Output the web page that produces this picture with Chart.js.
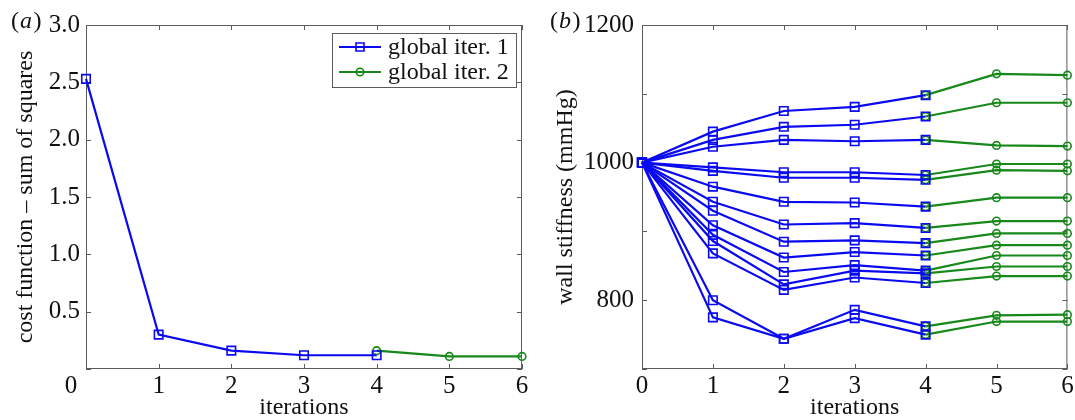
<!DOCTYPE html>
<html>
<head>
<meta charset="utf-8">
<script src="https://cdn.jsdelivr.net/npm/chart.js@4.4.1/dist/chart.umd.min.js"></script>
<style>
  body { margin: 0; background: #fff; }
  #wrap { position: relative; width: 1075px; height: 420px; overflow: hidden; }
  canvas { position: absolute; top: 0; }
  #costChart { left: 0; }
  #stiffChart { left: 540px; }
</style>
</head>
<body>
<div id="wrap">
  <canvas id="costChart" width="540" height="420"></canvas>
  <canvas id="stiffChart" width="535" height="420"></canvas>
</div>
<script>
// iterations on the x axis
const iterTicks = [0, 1, 2, 3, 4, 5, 6];
const stage1Iters = [0, 1, 2, 3, 4];
const stage2Iters = [4, 5, 6];
const seriesNames = ["global iter. 1", "global iter. 2"];

// (a) cost function
const costTickLabels = [0.5, 1.0, 1.5, 2.0, 2.5, 3.0];
const costStage1 = [2.53, 0.30, 0.16, 0.12, 0.12];
const costStage2 = [0.16, 0.11, 0.11];

// (b) wall stiffness, one row per vessel segment
const stiffTickLabels = [800, 1000, 1200];
const stiffStage1 = [
  [1000, 1045, 1075, 1081, 1098],
  [1000, 1033, 1052, 1055, 1067],
  [1000, 1023, 1033, 1031, 1033],
  [1000, 993, 986, 986, 982],
  [1000, 988, 978, 978, 975],
  [1000, 965, 943, 942, 936],
  [1000, 943, 910, 912, 905],
  [1000, 930, 885, 887, 883],
  [1000, 909, 862, 870, 865],
  [1000, 895, 841, 851, 843],
  [1000, 886, 823, 843, 839],
  [1000, 868, 815, 833, 825],
  [1000, 800, 744, 786, 762],
  [1000, 775, 744, 774, 750]
];
const stiffStage2 = [
  [1098, 1129, 1127],
  [1067, 1087, 1087],
  [1033, 1025, 1024],
  [982, 998, 998],
  [975, 989, 988],
  [936, 949, 949],
  [905, 915, 915],
  [883, 897, 897],
  [865, 880, 880],
  [843, 865, 865],
  [839, 849, 849],
  [825, 835, 835],
  [762, 778, 779],
  [750, 769, 769]
];

const BLUE = "#0a0af0";
const GREEN = "#17881a";
const SERIF = "'Liberation Serif', 'DejaVu Serif', serif";

const toPoints = (xs, ys) => ys.map((y, i) => ({ x: xs[i], y: y }));

const blueSet = (label, xs, ys) => ({
  label: label,
  data: toPoints(xs, ys),
  borderColor: BLUE,
  borderWidth: 2.2,
  pointStyle: "rect",
  pointRadius: 6,
  pointBorderWidth: 1.6,
  pointBackgroundColor: "rgba(0,0,0,0)",
  pointBorderColor: BLUE,
  clip: false
});

const greenSet = (label, xs, ys) => ({
  label: label,
  data: toPoints(xs, ys),
  borderColor: GREEN,
  borderWidth: 2.2,
  pointStyle: "circle",
  pointRadius: 3.8,
  pointBorderWidth: 1.6,
  pointBackgroundColor: "rgba(0,0,0,0)",
  pointBorderColor: GREEN,
  clip: false
});

// box around the plot + inward tick marks (matlab look)
const frameTicks = {
  id: "frameTicks",
  beforeDatasetsDraw(chart) {
    const { ctx, chartArea: a, scales } = chart;
    const len = 5;
    ctx.save();
    ctx.strokeStyle = "#5c5c5c";
    ctx.lineWidth = 1;
    ctx.strokeRect(a.left + 0.5, a.top + 0.5, a.right - a.left - 1, a.bottom - a.top - 1);
    ctx.beginPath();
    scales.x.ticks.forEach((t) => {
      const px = Math.round(scales.x.getPixelForValue(t.value)) + 0.5;
      ctx.moveTo(px, a.bottom);
      ctx.lineTo(px, a.bottom - len);
      ctx.moveTo(px, a.top);
      ctx.lineTo(px, a.top + len);
    });
    scales.y.ticks.forEach((t) => {
      const py = Math.round(scales.y.getPixelForValue(t.value)) + 0.5;
      ctx.moveTo(a.left, py);
      ctx.lineTo(a.left + len, py);
      ctx.moveTo(a.right, py);
      ctx.lineTo(a.right - len, py);
    });
    ctx.stroke();
    ctx.restore();
  },
  afterDraw(chart, args, opts) {
    if (!opts.letter) return;
    const ctx = chart.ctx;
    ctx.save();
    ctx.fillStyle = "#111";
    ctx.textBaseline = "middle";
    let x = opts.x;
    const y = 22;
    ctx.font = "24px " + SERIF;
    ctx.fillText("(", x, y);
    x += ctx.measureText("(").width + 1;
    ctx.font = "italic 24px " + SERIF;
    ctx.fillText(opts.letter, x, y);
    x += ctx.measureText(opts.letter).width + 1.5;
    ctx.font = "24px " + SERIF;
    ctx.fillText(")", x, y);
    ctx.restore();
  }
};

// legend box inside panel (a)
const boxLegend = {
  id: "boxLegend",
  afterDraw(chart, args, opts) {
    if (!opts.show) return;
    const { ctx, chartArea: a } = chart;
    const w = 184, h = 54;
    const left = a.right - 6 - w, top = a.top + 8;
    ctx.save();
    ctx.fillStyle = "#fff";
    ctx.fillRect(left, top, w, h);
    ctx.strokeStyle = "#5c5c5c";
    ctx.lineWidth = 1;
    ctx.strokeRect(left + 0.5, top + 0.5, w, h);
    chart.data.datasets.forEach((ds, i) => {
      const y = top + 14 + i * 25;
      ctx.strokeStyle = ds.borderColor;
      ctx.lineWidth = 2.2;
      ctx.beginPath();
      ctx.moveTo(left + 7, y);
      ctx.lineTo(left + 49, y);
      ctx.stroke();
      ctx.lineWidth = 1.6;
      ctx.beginPath();
      if (ds.pointStyle === "rect") {
        ctx.rect(left + 24, y - 4, 8, 8);
      } else {
        ctx.arc(left + 28, y, 3.8, 0, Math.PI * 2);
      }
      ctx.stroke();
      ctx.fillStyle = "#111";
      ctx.font = "24px " + SERIF;
      ctx.textBaseline = "middle";
      ctx.fillText(ds.label, left + 56, y + 1);
    });
    ctx.restore();
  }
};

const xScale = (zeroLabel) => ({
  type: "linear",
  min: 0,
  max: 6,
  afterBuildTicks: (scale) => {
    scale.ticks = iterTicks.map((v) => ({ value: v }));
  },
  afterFit: (scale) => {
    scale.height = 51;
    scale.paddingLeft = 0;
    scale.paddingRight = 0;
  },
  grid: { display: false, drawTicks: false },
  border: { display: false },
  ticks: {
    autoSkip: false,
    maxRotation: 0,
    padding: 2,
    color: "#111",
    font: { family: SERIF, size: 25 },
    callback: (v) => (v === 0 ? zeroLabel : String(v))
  },
  title: {
    display: true,
    text: "iterations",
    color: "#111",
    font: { family: SERIF, size: 24, lineHeight: 1.0 },
    padding: { top: -4, bottom: 0 }
  }
});

const yScale = (opts) => ({
  type: "linear",
  min: opts.min,
  max: opts.max,
  afterBuildTicks: (scale) => {
    const ticks = [];
    for (let v = opts.min; v <= opts.max + 1e-9; v += opts.step) ticks.push({ value: +v.toFixed(3) });
    scale.ticks = ticks;
  },
  afterFit: (scale) => {
    scale.width = opts.width;
    scale.paddingTop = 0;
    scale.paddingBottom = 0;
  },
  grid: { display: false, drawTicks: false },
  border: { display: false },
  ticks: {
    padding: opts.pad,
    color: "#111",
    font: { family: SERIF, size: 25 },
    callback: opts.label
  },
  title: {
    display: true,
    text: opts.title,
    color: "#111",
    font: { family: SERIF, size: 24 },
    padding: { top: 11, bottom: 0 }
  }
});

// panel (a)
new Chart(document.getElementById("costChart").getContext("2d"), {
  type: "line",
  data: {
    datasets: [
      blueSet(seriesNames[0], stage1Iters, costStage1),
      greenSet(seriesNames[1], stage2Iters, costStage2)
    ]
  },
  options: {
    responsive: false,
    animation: false,
    layout: { padding: { top: 25, right: 18, bottom: 0, left: 0 } },
    plugins: {
      legend: { display: false },
      tooltip: { enabled: false },
      frameTicks: { letter: "a", x: 11 },
      boxLegend: { show: true }
    },
    scales: {
      x: xScale("0\u2003\u2009"),
      y: yScale({
        min: 0, max: 3, step: 0.5, width: 86, pad: 6,
        title: "cost function \u2013 sum of squares",
        label: (v) => {
          const hit = costTickLabels.find((t) => Math.abs(t - v) < 1e-6);
          return hit === undefined ? "" : hit.toFixed(1);
        }
      })
    }
  },
  plugins: [frameTicks, boxLegend]
});

// panel (b)
const stiffSets = [];
stiffStage1.forEach((row) => stiffSets.push(blueSet(seriesNames[0], stage1Iters, row)));
stiffStage2.forEach((row) => stiffSets.push(greenSet(seriesNames[1], stage2Iters, row)));

new Chart(document.getElementById("stiffChart").getContext("2d"), {
  type: "line",
  data: { datasets: stiffSets },
  options: {
    responsive: false,
    animation: false,
    layout: { padding: { top: 25, right: 1, bottom: 0, left: 0 } },
    plugins: {
      legend: { display: false },
      tooltip: { enabled: false },
      frameTicks: { letter: "b", x: 10 },
      boxLegend: { show: false }
    },
    scales: {
      x: xScale("0"),
      y: yScale({
        min: 700, max: 1200, step: 100, width: 102, pad: 8,
        title: "wall stiffness (mmHg)",
        label: (v) => (stiffTickLabels.includes(v) ? String(v) : "")
      })
    }
  },
  plugins: [frameTicks, boxLegend]
});
</script>
</body>
</html>
